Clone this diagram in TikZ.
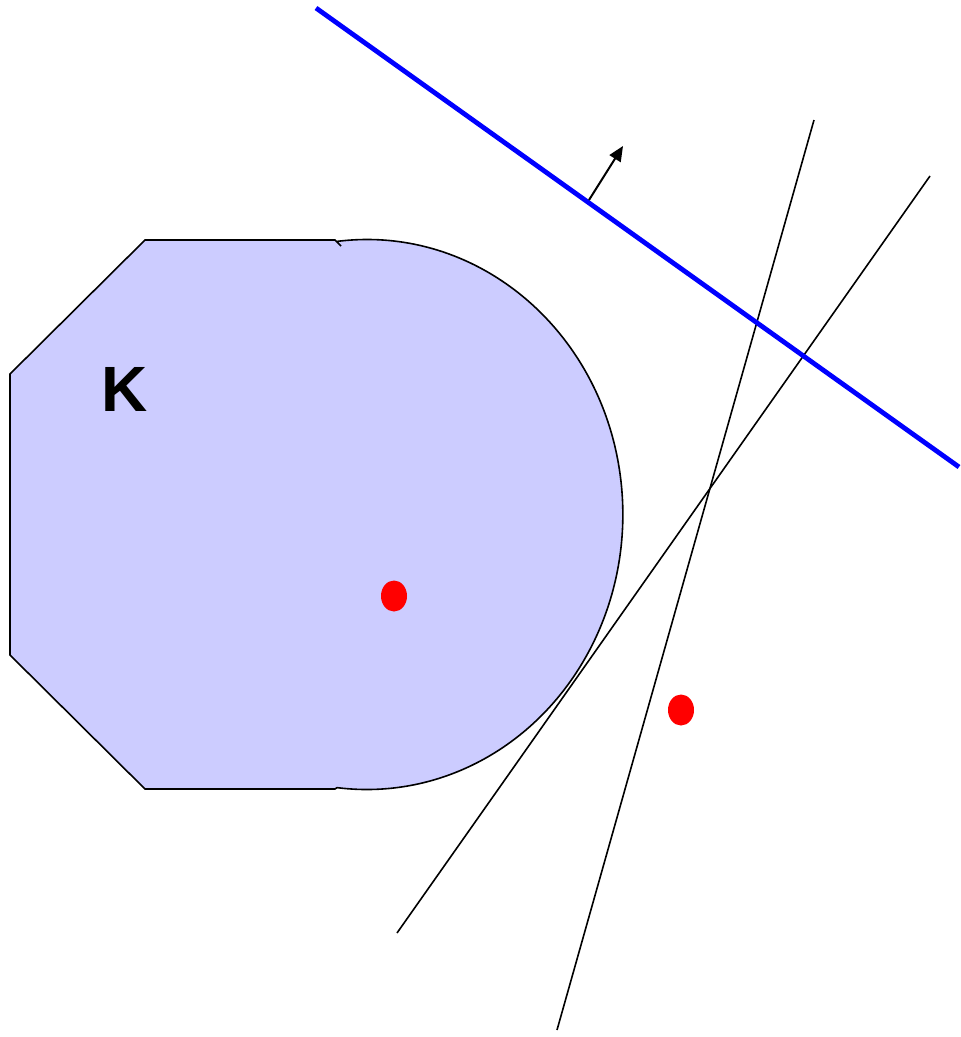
\documentclass[tikz,border=0pt]{standalone}
\usepackage{fontspec}
\setsansfont{Liberation Sans}
\usetikzlibrary{arrows.meta, shapes.geometric}
\definecolor{setFill}{HTML}{CCCCFF}
\definecolor{hypBlue}{HTML}{0000FF}

\begin{document}
\begin{tikzpicture}[x=1pt, y=-1pt, every node/.style={inner sep=0pt},
    thin line/.style={draw=black, line width=1.6pt},
    point/.style={ellipse, fill=red, minimum width=26pt, minimum height=31pt}]
  \useasboundingbox (0,0) rectangle (961,1037);
  % convex set
  \filldraw[fill=setFill, thin line] (337,241.4) arc[start angle=-96.7, end angle=96.7, x radius=256, y radius=275]
    -- (335,789) -- (145,789) -- (10,655) -- (10,374) -- (145,240) -- (335,240) -- (341,246);
  \node[font=\sffamily\bfseries\fontsize{64}{64}\selectfont] (K) at (125,389) {K};
  % points
  \node[point] (p1) at (394,596) {};
  \node[point] (p2) at (681,710) {};
  % separating lines
  \coordinate (la) at (397,933);
  \coordinate (lb) at (930,176);
  \coordinate (ma) at (557,1030);
  \coordinate (mb) at (814,120);
  \draw[thin line] (la) -- (lb);
  \draw[thin line] (ma) -- (mb);
  % hyperplane and normal
  \coordinate (ha) at (316,8);
  \coordinate (hb) at (959,467);
  \draw[hypBlue, line width=4.8pt] (ha) -- (hb);
  \coordinate (n0) at (589,200);
  \coordinate (n1) at (623,146);
  \draw[line width=2pt, -{Triangle[length=15pt, width=13pt]}] (n0) -- (n1);
\end{tikzpicture}
\end{document}
